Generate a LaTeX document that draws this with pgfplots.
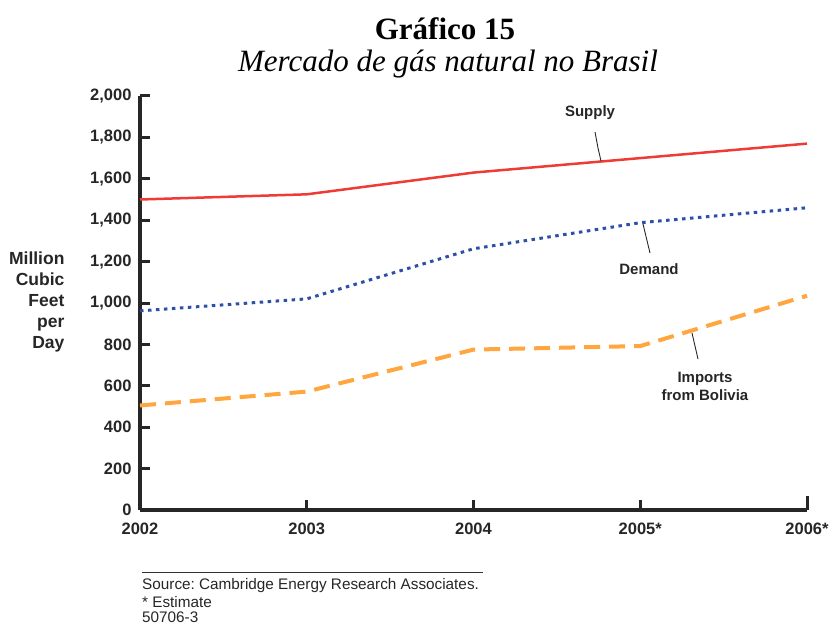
\documentclass[border=0pt]{standalone}
\usepackage{fontspec}
\setmainfont{Liberation Sans}
\newfontfamily\timesfont{Liberation Serif}
\usepackage{pgfplots}
\pgfplotsset{compat=1.18}
\definecolor{supplyred}{HTML}{EE3B36}
\definecolor{demandblue}{HTML}{2E4FA6}
\definecolor{importorange}{HTML}{FFA63F}
\frenchspacing
\begin{document}
\begin{tikzpicture}[x=1pt,y=1pt]
\useasboundingbox (-140,-117) rectangle (690,510);
\begin{axis}[
  at={(0,0)}, anchor=south west,
  scale only axis, width=667pt, height=414pt,
  xmin=0, xmax=4, ymin=0, ymax=2000,
  axis lines*=left,
  axis line style={line width=4pt, black!85, -},
  xtick={0,1,2,3,4},
  xticklabels={2002,2003,2004,2005*,2006*},
  ytick={0,200,...,2000},
  tick align=inside,
  xtick pos=left, ytick pos=left,
  major tick style={line width=3pt, black!85},
  major tick length=10pt,
  extra x ticks={4}, extra x tick labels={},
  extra x tick style={major tick length=14pt},
  tick label style={font=\fontsize{16.5}{19}\selectfont\bfseries, text=black!85},
  /pgf/number format/assume math mode=true,
  /pgf/number format/1000 sep={,},
  xticklabel style={yshift=-9pt},
  yticklabel style={xshift=-5pt},
  clip=false,
]
\addplot[supplyred, line width=2.5pt] coordinates {(0,1500) (1,1525) (2,1630) (3,1700) (4,1770)};
\addplot[demandblue, line width=3pt, dash pattern=on 3.5pt off 4.5pt] coordinates {(0,962) (1,1020) (2,1262) (3,1388) (4,1460)};
\addplot[importorange, line width=4pt, dash pattern=on 16pt off 9pt] coordinates {(0,505) (1,572) (2,775) (3,792) (4,1035)};
\end{axis}
% y label
\node[align=right, anchor=east, font=\fontsize{17.5}{21}\selectfont\bfseries, text=black!85] at (-72,208) {Million\\Cubic\\Feet\\per\\Day};
% annotations
\node[font=\fontsize{15}{18}\selectfont\bfseries, text=black!85] at (450,397) {Supply};
\draw[line width=0.9pt, black!85] (455,378) -- (458,362) -- (461,349);
\node[font=\fontsize{15}{18}\selectfont\bfseries, text=black!85] at (509,241) {Demand};
\draw[line width=0.9pt, black!85] (503,286) -- (510,257);
\node[align=center, font=\fontsize{15}{18}\selectfont\bfseries, text=black!85] at (565,124) {Imports\\from Bolivia};
\draw[line width=0.9pt, black!85] (552,177) -- (558,151);
% title
\node[font=\fontsize{31}{34}\selectfont\timesfont\bfseries] at (305,481) {Gráfico 15};
\node[font=\fontsize{31}{34}\selectfont\timesfont\itshape] at (308,446) {Mercado de gás natural no Brasil};
% footer
\draw[line width=0.8pt, black!80] (2,-62) -- (343,-62);
\node[anchor=west, inner sep=0pt, font=\fontsize{15.3}{17}\selectfont, text=black!85] at (2,-76) {Source: Cambridge Energy Research Associates.};
\node[anchor=west, inner sep=0pt, font=\fontsize{15.3}{17}\selectfont, text=black!85] at (2,-92) {* Estimate};
\node[anchor=west, inner sep=0pt, font=\fontsize{15.3}{17}\selectfont, text=black!85] at (2,-107.5) {50706-3};
\end{tikzpicture}
\end{document}
